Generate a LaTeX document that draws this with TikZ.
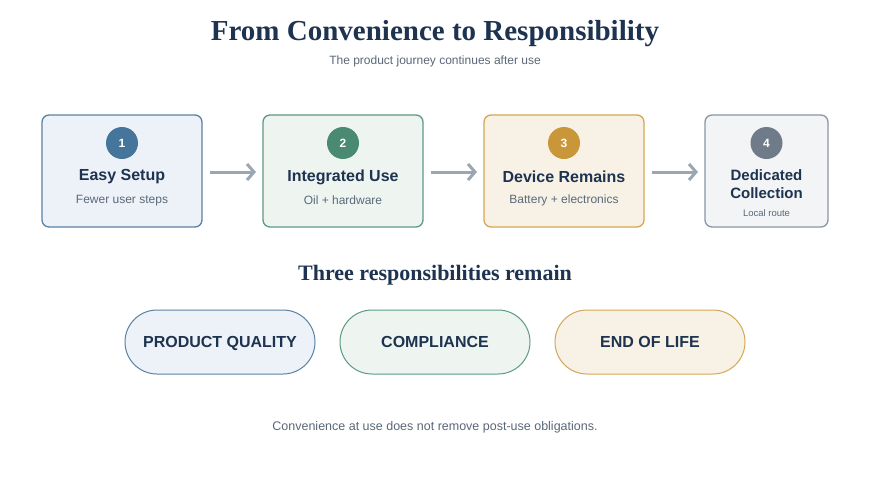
\documentclass[tikz,border=0pt]{standalone}
\usepackage{fontspec}
\setmainfont{Liberation Sans}
\newfontfamily\serifb{Liberation Serif}
\usetikzlibrary{arrows.meta}
\definecolor{navy}{HTML}{1E3350}
\definecolor{graytxt}{HTML}{5A6878}
\definecolor{fillA}{HTML}{EDF2F8}\definecolor{lineA}{HTML}{5A82A5}\definecolor{dotA}{HTML}{45759A}
\definecolor{fillB}{HTML}{EEF5F1}\definecolor{lineB}{HTML}{5D9A85}\definecolor{dotB}{HTML}{4A8A72}
\definecolor{fillC}{HTML}{F8F2E6}\definecolor{lineC}{HTML}{D4A853}\definecolor{dotC}{HTML}{C9973A}
\definecolor{fillD}{HTML}{F2F4F6}\definecolor{lineD}{HTML}{8A96A3}\definecolor{dotD}{HTML}{6F7B88}
\definecolor{arrowc}{HTML}{9AA7B3}
\tikzset{
  stepbox/.style={draw=#1, line width=1.3pt, rounded corners=7pt, inner sep=0pt},
  numdot/.style={circle, fill=#1, minimum size=32pt, inner sep=0pt, text=white, font=\bfseries\fontsize{12}{14}\selectfont},
  boxtitle/.style={text=navy, font=\bfseries\fontsize{16}{19}\selectfont, align=center, inner sep=0pt},
  boxsub/.style={text=graytxt, font=\fontsize{12}{14}\selectfont, inner sep=0pt},
  flow/.style={draw=arrowc, line width=3pt, -{Straight Barb[length=7pt,width=16pt,line width=3pt]}},
  pill/.style={draw=#1, line width=1pt, rounded corners=32pt, minimum width=190pt, minimum height=64pt, text=navy, text height=11.5pt, text depth=0pt, font=\bfseries\fontsize{16}{19}\selectfont},
}
\begin{document}
\begin{tikzpicture}[x=1pt,y=-1pt]
\useasboundingbox[fill=white] (0,0) rectangle (870,480);
\node[text=navy, font=\serifb\bfseries\fontsize{29}{34}\selectfont] (title) at (435,34) {From Convenience to Responsibility};
\node[text=graytxt, font=\fontsize{12}{14}\selectfont] (sub) at (435,61) {The product journey continues after use};

\node[stepbox=lineA, fill=fillA, minimum width=160pt, minimum height=112pt] (b1) at (122,171) {};
\node[stepbox=lineB, fill=fillB, minimum width=160pt, minimum height=112pt] (b2) at (343,171) {};
\node[stepbox=lineC, fill=fillC, minimum width=160pt, minimum height=112pt] (b3) at (564,171) {};
\node[stepbox=lineD, fill=fillD, minimum width=123pt, minimum height=112pt] (b4) at (766.5,171) {};

\node[numdot=dotA] (n1) at (122,143) {1};
\node[numdot=dotB] (n2) at (343,143) {2};
\node[numdot=dotC] (n3) at (564,143) {3};
\node[numdot=dotD] (n4) at (766.5,143) {4};

\node[boxtitle] (t1) at (122,177) {Easy Setup};
\node[boxsub] (s1) at (122,200.5) {Fewer user steps};
\node[boxtitle] (t2) at (343,177) {Integrated Use};
\node[boxsub] (s2) at (343,200.5) {Oil + hardware};
\node[boxtitle] (t3) at (564,177) {Device Remains};
\node[boxsub] (s3) at (564,200.5) {Battery + electronics};
\node[boxtitle, font=\bfseries\fontsize{15}{18}\selectfont] (t4) at (766.5,184) {Dedicated\\Collection};
\node[boxsub, font=\fontsize{9.5}{11}\selectfont] (s4) at (766.5,213) {Local route};

\coordinate (a1s) at (210,172); \coordinate (a1e) at (256,172);
\coordinate (a2s) at (431,172); \coordinate (a2e) at (477,172);
\coordinate (a3s) at (652,172); \coordinate (a3e) at (698,172);
\draw[flow] (a1s) -- (a1e);
\draw[flow] (a2s) -- (a2e);
\draw[flow] (a3s) -- (a3e);

\node[text=navy, font=\serifb\bfseries\fontsize{22}{26}\selectfont] (three) at (435,275) {Three responsibilities remain};

\node[pill=lineA, fill=fillA] (p1) at (220,342) {PRODUCT QUALITY};
\node[pill=lineB, fill=fillB] (p2) at (435,342) {COMPLIANCE};
\node[pill=lineC, fill=fillC] (p3) at (650,342) {END OF LIFE};

\node[text=graytxt, font=\fontsize{12.5}{15}\selectfont] (foot) at (435,427) {Convenience at use does not remove post-use obligations.};
\end{tikzpicture}
\end{document}
